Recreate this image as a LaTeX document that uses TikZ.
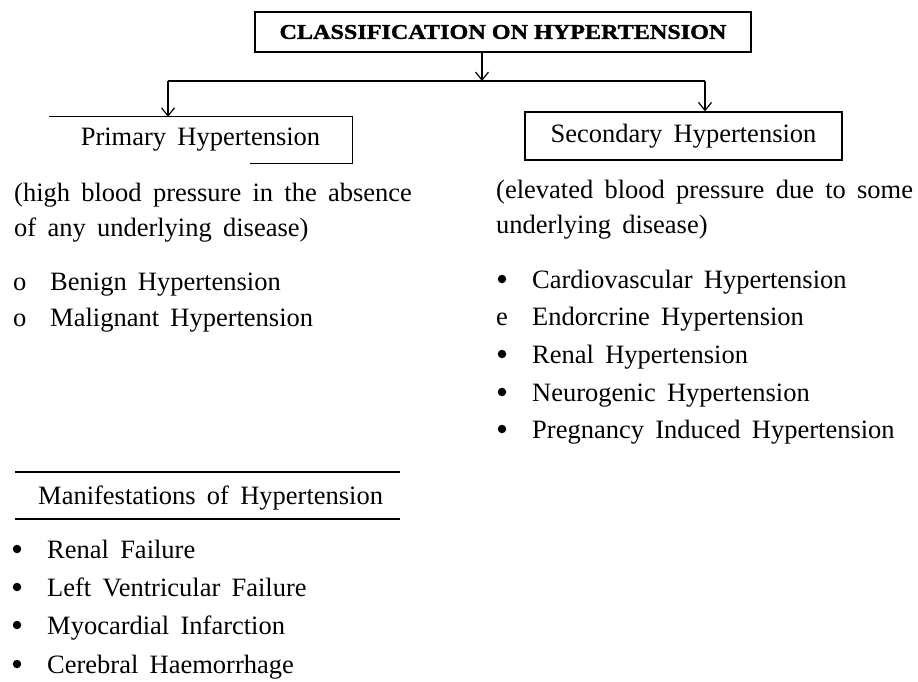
\documentclass[tikz,border=0pt]{standalone}
\usepackage{fontspec}
\setmainfont{Liberation Serif}[WordSpace=1.7]
\newfontfamily\titlefont[FakeStretch=1.15,FakeBold=1.5]{Liberation Serif}
\usetikzlibrary{arrows.meta,positioning,calc}

\begin{document}
\begin{tikzpicture}[x=1pt,y=-1pt,
  txt/.style={anchor=base west,inner sep=0pt,font=\fontsize{26.5}{32}\selectfont},
  boxtxt/.style={inner sep=0pt,font=\fontsize{26.5}{32}\selectfont},
  dot/.style={circle,fill,inner sep=0pt,minimum size=8.5pt},
  arr/.style={-{Straight Barb[length=8pt,width=13pt]},line width=1.2pt}]
\useasboundingbox (0,0) rectangle (918,681);

% title box
\node[draw,line width=1.5pt,minimum width=496pt,minimum height=40pt,inner sep=0pt,
  font=\titlefont\bfseries\fontsize{21}{24}\selectfont] (title) at (503,32) {CLASSIFICATION ON HYPERTENSION};

% the two classes
\node[boxtxt,minimum width=303pt,minimum height=46pt] (prim) at (200.5,140) {Primary Hypertension};
\draw[line width=1.3pt] (prim.north west) -- (prim.north east) -- (prim.south east) -- ($(prim.south east)+(-102,0)$);
\node[boxtxt,draw,line width=1.3pt,minimum width=317pt,minimum height=48pt] (sec) at (683.5,136) {Secondary Hypertension};

% connectors
\coordinate (split) at (482,81);
\coordinate (lj) at (168,81);
\coordinate (rj) at (705,81);
\draw[arr] (title.south -| split) -- (split);
\draw[line width=1.2pt] (lj) -- (rj);
\draw[arr] (lj) -- (lj |- prim.north);
\draw[arr] (rj) -- (rj |- sec.north);

% primary
\node[txt] (pdef1) at (14,201) {(high blood pressure in the absence};
\node[txt] (pdef2) at (14,236) {of any underlying disease)};
\node[txt] (o1) at (13,290) {o};
\node[txt] (benign) at (50,290) {Benign Hypertension};
\node[txt] (o2) at (13,326) {o};
\node[txt] (malig) at (50,326) {Malignant Hypertension};

% secondary
\node[txt] (sdef1) at (496,198) {(elevated blood pressure due to some};
\node[txt] (sdef2) at (496,233) {underlying disease)};
\node[dot] (s1) at (502,279) {};
\node[txt] (cardio) at (532,288) {Cardiovascular Hypertension};
\node[txt] (e1) at (496,325) {e};
\node[txt] (endo) at (532,325) {Endorcrine Hypertension};
\node[dot] (s3) at (502,354) {};
\node[txt] (renal) at (532,363) {Renal Hypertension};
\node[dot] (s4) at (502,392) {};
\node[txt] (neuro) at (532,401) {Neurogenic Hypertension};
\node[dot] (s5) at (502,429) {};
\node[txt] (preg) at (532,438) {Pregnancy Induced Hypertension};

% manifestations
\draw[line width=1.8pt] (15,472) -- (400,472);
\node[txt] (manif) at (38,504) {Manifestations of Hypertension};
\draw[line width=1.8pt] (15,519) -- (400,519);
\node[dot] (m1) at (17,549) {};
\node[txt] (rfail) at (47,558) {Renal Failure};
\node[dot] (m2) at (17,587) {};
\node[txt] (lvf) at (47,596) {Left Ventricular Failure};
\node[dot] (m3) at (17,625) {};
\node[txt] (mi) at (47,634) {Myocardial Infarction};
\node[dot] (m4) at (17,664) {};
\node[txt] (ch) at (47,673) {Cerebral Haemorrhage};
\end{tikzpicture}
\end{document}
